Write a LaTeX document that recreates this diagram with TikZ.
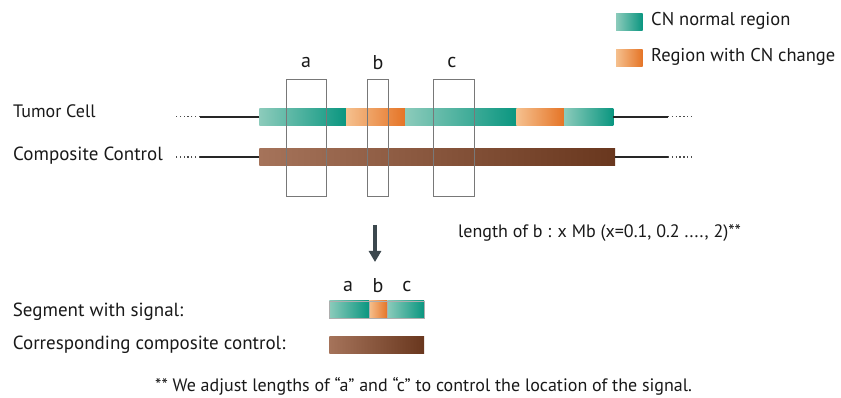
\documentclass[tikz,border=0pt]{standalone}
\usepackage{fontspec}
\setmainfont{PT Sans}
\usetikzlibrary{arrows.meta}
\definecolor{tealL}{RGB}{140,203,187}
\definecolor{tealD}{RGB}{10,150,128}
\definecolor{orgL}{RGB}{245,192,142}
\definecolor{orgD}{RGB}{229,116,38}
\definecolor{brnL}{RGB}{165,115,90}
\definecolor{brnD}{RGB}{105,55,30}
\definecolor{boxgray}{RGB}{120,120,120}
\definecolor{arrowcol}{RGB}{60,72,78}
\definecolor{txt}{RGB}{25,25,25}
\tikzset{
  bar/.style={inner sep=0pt, outer sep=0pt, minimum height=17pt, anchor=west},
  tealbar/.style={bar, left color=tealL, right color=tealD},
  orgbar/.style={bar, left color=orgL, right color=orgD},
  brnbar/.style={bar, left color=brnL, right color=brnD},
  winbox/.style={draw=boxgray, line width=0.8pt},
  lbl/.style={font=\fontsize{18}{21}\selectfont, text=txt, anchor=west, inner sep=0pt},
  biglbl/.style={lbl, font=\fontsize{19}{22}\selectfont},
  letter/.style={font=\fontsize{20}{23}\selectfont, text=txt, inner sep=0pt},
  chrom/.style={line width=1.8pt, black!85},
  dots/.style={line width=1.5pt, black!70, dash pattern=on 1.3pt off 2.5pt},
}
\begin{document}
\begin{tikzpicture}[x=1pt,y=-1pt]
\useasboundingbox (0,0) rectangle (841,398);
% legend
\node[tealbar, minimum width=26.7pt] (legT) at (616,22) {};
\node[orgbar, minimum width=26.7pt] (legO) at (616,58) {};
\node[lbl, font=\fontsize{18.5}{21}\selectfont] (legTt) at (651,21) {CN normal region};
\node[lbl, font=\fontsize{18.5}{21}\selectfont] (legOt) at (651,57) {Region with CN change};
% labels
\node[lbl] (tumor) at (13,111) {Tumor Cell};
\node[biglbl] (comp) at (13,156) {Composite Control};
% tumor bar
\node[tealbar, minimum width=86.7pt] (t1) at (259.3,116.7) {};
\node[orgbar, minimum width=59pt] (o1) at (346,116.7) {};
\node[tealbar, minimum width=111.7pt] (t2) at (405,116.7) {};
\node[orgbar, minimum width=47.3pt] (o2) at (516.7,116.7) {};
\node[tealbar, minimum width=49.3pt] (t3) at (564,116.7) {};
% control bar
\node[brnbar, minimum width=355.7pt] (ctrl) at (259.3,157) {};
% chromosome lines
\coordinate (tL) at (200,116.7);
\coordinate (tLd) at (176,116.7);
\coordinate (tR) at (668,116.7);
\coordinate (tRd) at (693,116.7);
\coordinate (cL) at (200,157);
\coordinate (cLd) at (176,157);
\coordinate (cR) at (668,157);
\coordinate (cRd) at (693,157);
\draw[chrom] (t1.west) -- (tL);
\draw[dots] (tL) -- (tLd);
\draw[chrom] (t3.east) -- (tR);
\draw[dots] (tR) -- (tRd);
\draw[chrom] (ctrl.west) -- (cL);
\draw[dots] (cL) -- (cLd);
\draw[chrom] (ctrl.east) -- (cR);
\draw[dots] (cR) -- (cRd);
% windows
\draw[winbox] (286,79) rectangle (326.7,196);
\draw[winbox] (367.7,79) rectangle (388.7,196);
\draw[winbox] (433.3,79) rectangle (474,196);
\node[letter] (la) at (306,63) {a};
\node[letter] (lb) at (378,63) {b};
\node[letter] (lc) at (452,63) {c};
% arrow
\coordinate (arrS) at (375,225);
\coordinate (arrE) at (375,262);
\draw[arrowcol, line width=3.5pt, -{Triangle[width=12pt,length=11pt]}] (arrS) -- (arrE);
\node[lbl] (lenb) at (458,233) {length of b : x Mb (x=0.1, 0.2 ...., 2)**};
% small segment
\node[tealbar, minimum width=39.7pt, minimum height=17.6pt, draw=boxgray!60, line width=0.4pt] (s1) at (329.3,309.5) {};
\node[orgbar, minimum width=18.3pt, minimum height=17.6pt, draw=boxgray!60, line width=0.4pt] (s2) at (369,309.5) {};
\node[tealbar, minimum width=36.7pt, minimum height=17.6pt, draw=boxgray!60, line width=0.4pt] (s3) at (387.3,309.5) {};
\node[brnbar, minimum width=94.7pt, minimum height=17.3pt] (sc) at (329.3,345.3) {};
\node[letter] (sa) at (348,286) {a};
\node[letter] (sb) at (378,286) {b};
\node[letter] (scc) at (407,286) {c};
\node[biglbl] (seg) at (12.7,311.7) {Segment with signal:};
\node[biglbl] (corr) at (12.7,345) {Corresponding composite control:};
\node[lbl] (foot) at (155,386) {** We adjust lengths of “a” and “c” to control the location of the signal.};
\end{tikzpicture}
\end{document}
